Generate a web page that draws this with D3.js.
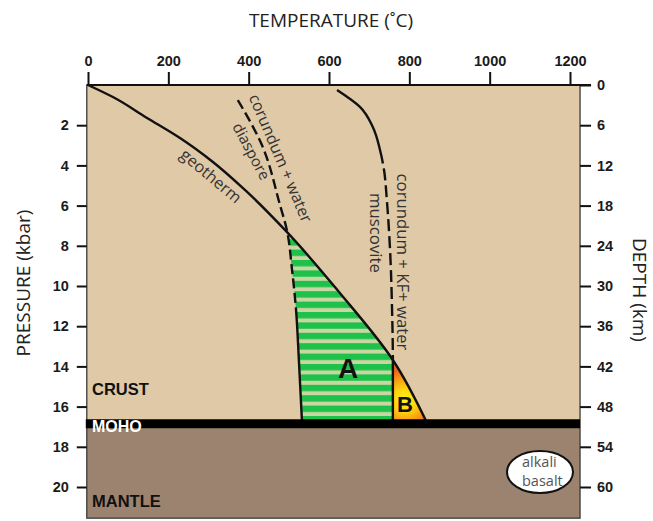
<!DOCTYPE html>
<html>
<head>
<meta charset="utf-8">
<script src="https://cdn.jsdelivr.net/npm/d3@7"></script>
<style>
  body { margin: 0; background: #fff; }
  svg { display: block; }
</style>
</head>
<body>
<svg id="chart" width="653" height="521"></svg>
<script>
// Axis ticks
const tempTicks = [0, 200, 400, 600, 800, 1000, 1200];
const pressureTicks = [2, 4, 6, 8, 10, 12, 14, 16, 18, 20];
const depthTicks = [0, 6, 12, 18, 24, 30, 36, 42, 48, 54, 60];

// Geotherm (temperature °C vs pressure kbar)
const geothermT = [0, 62, 147, 229, 311, 396, 495, 627, 759, 845];
const geothermP = [0, 0.6, 1.64, 2.64, 3.83, 5.32, 7.31, 10.35, 13.68, 16.85];

// Reaction: corundum + water = diaspore
const diasporeT = [373, 433, 478, 495, 508, 518, 525, 533];
const diasporeP = [0.75, 2.99, 5.97, 7.21, 9.2, 11.2, 13.68, 16.85];

// Reaction: corundum + KF + water = muscovite
const muscoviteT = [620, 677, 709, 727, 737, 744, 752, 757, 759, 759];
const muscoviteP = [0.25, 1.09, 2.09, 3.23, 4.23, 5.72, 8.21, 11.19, 13.68, 16.85];

// Crust / mantle boundary (kbar)
const mohoP = 16.85;

const svg = d3.select("#chart");
const W = 653, H = 521;

const x = d3.scaleLinear().domain([0, 1200]).range([88, 570]);
const y = d3.scaleLinear().domain([0, 20]).range([85, 487]);
const yDepth = d3.scaleLinear().domain([0, 60]).range([85, 487]);

const tMin = -3, tMax = 1225, pMax = 21.55;
const plotL = x(tMin), plotR = x(tMax), plotT = y(0), plotB = y(pMax);

const pts = (T, P) => T.map((t, i) => ({ T: t, P: P[i] }));
const geo = pts(geothermT, geothermP);
const dia = pts(diasporeT, diasporeP);
const mus = pts(muscoviteT, muscoviteP);

const line = d3.line().x(d => x(d.T)).y(d => y(d.P)).curve(d3.curveMonotoneY);

const defs = svg.append("defs");

// Striped fill for field A
const pat = defs.append("pattern").attr("id", "stripes")
  .attr("patternUnits", "userSpaceOnUse").attr("width", 10).attr("height", 10.4);
pat.append("rect").attr("width", 10).attr("height", 10.4).attr("fill", "#c9d5a2");
pat.append("rect").attr("y", 0).attr("width", 10).attr("height", 6.4).attr("fill", "#1ec24a");

// Glowing fill for field B
const grad = defs.append("radialGradient").attr("id", "gradB")
  .attr("gradientUnits", "userSpaceOnUse")
  .attr("cx", 405).attr("cy", 400).attr("r", 30);
grad.append("stop").attr("offset", 0).attr("stop-color", "#fff41a");
grad.append("stop").attr("offset", 0.4).attr("stop-color", "#ffd20f");
grad.append("stop").attr("offset", 1).attr("stop-color", "#f2661c");

// Half-plane clips built from the same curve generator as the lines
function clip(id, d) {
  defs.append("clipPath").attr("id", id).append("path").attr("d", d);
}
const first = a => a[0], last = a => a[a.length - 1];
clip("leftOfGeo", line(geo) + `L${x(last(geo).T)},${H}L0,${H}L0,0L${x(first(geo).T)},0Z`);
clip("rightOfDia", line(dia) + `L${x(last(dia).T)},${H}L${W},${H}L${W},0L${x(first(dia).T)},0Z`);
clip("leftOfMus", line(mus) + `L${x(last(mus).T)},${H}L0,${H}L0,0L${x(first(mus).T)},0Z`);
clip("rightOfMus", line(mus) + `L${x(last(mus).T)},${H}L${W},${H}L${W},0L${x(first(mus).T)},0Z`);
defs.append("clipPath").attr("id", "aboveMoho").append("rect")
  .attr("x", 0).attr("y", 0).attr("width", W).attr("height", y(mohoP));

// Crust and mantle
svg.append("rect").attr("x", plotL).attr("y", plotT).attr("width", plotR - plotL)
  .attr("height", y(mohoP) - plotT).attr("fill", "#dfc9a7");
svg.append("rect").attr("x", plotL).attr("y", y(mohoP)).attr("width", plotR - plotL)
  .attr("height", plotB - y(mohoP)).attr("fill", "#9b836f");

function nested(ids) {
  let g = svg.append("g");
  ids.forEach((id, i) => {
    if (i > 0) g = g.append("g");
    g.attr("clip-path", `url(#${id})`);
  });
  return g;
}
// Field A
nested(["aboveMoho", "leftOfGeo", "rightOfDia", "leftOfMus"])
  .append("rect").attr("x", plotL).attr("y", plotT).attr("width", plotR - plotL)
  .attr("height", plotB - plotT).attr("fill", "url(#stripes)");
// Field B
nested(["aboveMoho", "leftOfGeo", "rightOfMus"])
  .append("rect").attr("x", plotL).attr("y", plotT).attr("width", plotR - plotL)
  .attr("height", plotB - plotT).attr("fill", "url(#gradB)");

// Plot frame
svg.append("rect").attr("x", plotL).attr("y", plotT).attr("width", plotR - plotL)
  .attr("height", plotB - plotT).attr("fill", "none")
  .attr("stroke", "#3b3b3b").attr("stroke-width", 1.3);

// Length along a path where it reaches pressure P
function lengthAtP(node, P) {
  let lo = 0, hi = node.getTotalLength();
  for (let i = 0; i < 40; i++) {
    const mid = (lo + hi) / 2;
    if (node.getPointAtLength(mid).y < y(P)) lo = mid; else hi = mid;
  }
  return lo;
}
// Solid / dashed / solid stroke pattern
function dashes(node, pFrom, pTo, dash, gap) {
  const total = node.getTotalLength();
  const a = pFrom == null ? 0 : lengthAtP(node, pFrom);
  const b = pTo == null ? total : lengthAtP(node, pTo);
  const arr = [];
  let pos = 0;
  if (a > 0) { arr.push(a, gap); pos = a + gap; }
  while (pos + dash + gap < b) { arr.push(dash, gap); pos += dash + gap; }
  arr.push(total + 20, 0);
  return arr.join(" ");
}

const curves = svg.append("g").attr("fill", "none").attr("stroke", "#111")
  .attr("stroke-width", 2.4);
curves.append("path").attr("d", line(geo));
const diaPath = curves.append("path").attr("d", line(dia));
diaPath.attr("stroke-dasharray", dashes(diaPath.node(), null, 11.3, 10, 4.5));
const musPath = curves.append("path").attr("d", line(mus));
musPath.attr("stroke-dasharray", dashes(musPath.node(), 3.9, 13.68, 12, 5));

// Moho band
svg.append("line").attr("x1", plotL - 1).attr("x2", plotR)
  .attr("y1", y(mohoP)).attr("y2", y(mohoP))
  .attr("stroke", "#000").attr("stroke-width", 9);

// Axes
const tickFont = g => g.selectAll("text")
  .attr("font-family", "'Liberation Sans', Arial, sans-serif")
  .attr("font-size", 14.5).attr("font-weight", "bold").attr("fill", "#1b1b1b");
const tickLines = g => g.selectAll(".tick line").attr("stroke", "#111").attr("stroke-width", 2);

svg.append("g").attr("transform", `translate(0,${plotT})`)
  .call(d3.axisTop(x).tickValues(tempTicks).tickFormat(d3.format("d"))
    .tickSize(13).tickPadding(6))
  .call(g => g.select(".domain").remove())
  .call(tickFont).call(tickLines);
svg.append("line").attr("x1", plotL).attr("x2", plotR + 11).attr("y1", plotT).attr("y2", plotT)
  .attr("stroke", "#111").attr("stroke-width", 2);

svg.append("g").attr("transform", `translate(${plotL},0)`)
  .call(d3.axisLeft(y).tickValues(pressureTicks).tickFormat(d3.format("d"))
    .tickSize(10).tickPadding(8))
  .call(g => g.select(".domain").remove())
  .call(tickFont).call(tickLines);

svg.append("g").attr("transform", `translate(${plotR},0)`)
  .call(d3.axisRight(yDepth).tickValues(depthTicks).tickFormat(d3.format("d"))
    .tickSize(11).tickPadding(6))
  .call(g => g.select(".domain").remove())
  .call(tickFont).call(tickLines);

// Axis titles
const titleFont = "'Open Sans', 'Noto Sans', sans-serif";
svg.append("text").attr("x", 331).attr("y", 27).attr("text-anchor", "middle")
  .attr("font-family", titleFont).attr("font-size", 19).attr("fill", "#222")
  .text("TEMPERATURE (˚C)");
svg.append("text").attr("transform", "translate(30,283) rotate(-90)")
  .attr("text-anchor", "middle").attr("font-family", titleFont)
  .attr("font-size", 19).attr("fill", "#222").text("PRESSURE (kbar)");
svg.append("text").attr("transform", "translate(633,290) rotate(90)")
  .attr("text-anchor", "middle").attr("font-family", titleFont)
  .attr("font-size", 19).attr("fill", "#222").text("DEPTH (km)");

// Curve labels, sized to their run along the curves
function label(txt, cx, cy, angle, dy, target) {
  const t = svg.append("text")
    .attr("transform", `translate(${cx},${cy}) rotate(${angle})`)
    .attr("text-anchor", "middle").attr("dy", dy)
    .attr("font-family", titleFont).attr("font-size", 14).attr("fill", "#333")
    .text(txt);
  const L = t.node().getComputedTextLength();
  t.attr("font-size", 14 * target / L);
  return t;
}
label("geotherm", 211, 176, 40, "0.35em", 74);
label("corundum + water", 274, 161, 67, "-0.1em", 138);
label("diaspore", 252, 151, 62, "0.4em", 62);
label("corundum + KF+ water", 400, 262, 90, "0.2em", 177);
label("muscovite", 378, 233, 90, "0.45em", 80);

// Field and layer names
const boldFont = "'Liberation Sans', Arial, sans-serif";
svg.append("text").attr("x", 348).attr("y", 378).attr("text-anchor", "middle")
  .attr("font-family", boldFont).attr("font-weight", "bold").attr("font-size", 28)
  .attr("fill", "#111").text("A");
svg.append("text").attr("x", 405).attr("y", 412).attr("text-anchor", "middle")
  .attr("font-family", boldFont).attr("font-weight", "bold").attr("font-size", 22)
  .attr("fill", "#111").text("B");
svg.append("text").attr("x", 92).attr("y", 395)
  .attr("font-family", boldFont).attr("font-weight", "bold").attr("font-size", 16.5)
  .attr("fill", "#111").text("CRUST");
svg.append("text").attr("x", 92).attr("y", 432)
  .attr("font-family", boldFont).attr("font-weight", "bold").attr("font-size", 16)
  .attr("fill", "#fff").text("MOHO");
svg.append("text").attr("x", 92).attr("y", 507)
  .attr("font-family", boldFont).attr("font-weight", "bold").attr("font-size", 16.5)
  .attr("fill", "#111").text("MANTLE");

// Alkali basalt marker
svg.append("ellipse").attr("cx", 540).attr("cy", 472).attr("rx", 33).attr("ry", 21)
  .attr("fill", "#fff").attr("stroke", "#111").attr("stroke-width", 2);
svg.append("text").attr("x", 522).attr("y", 467)
  .attr("font-family", titleFont).attr("font-size", 14.5).attr("fill", "#555").text("alkali");
svg.append("text").attr("x", 522).attr("y", 486)
  .attr("font-family", titleFont).attr("font-size", 14.5).attr("fill", "#555").text("basalt");
</script>
</body>
</html>
